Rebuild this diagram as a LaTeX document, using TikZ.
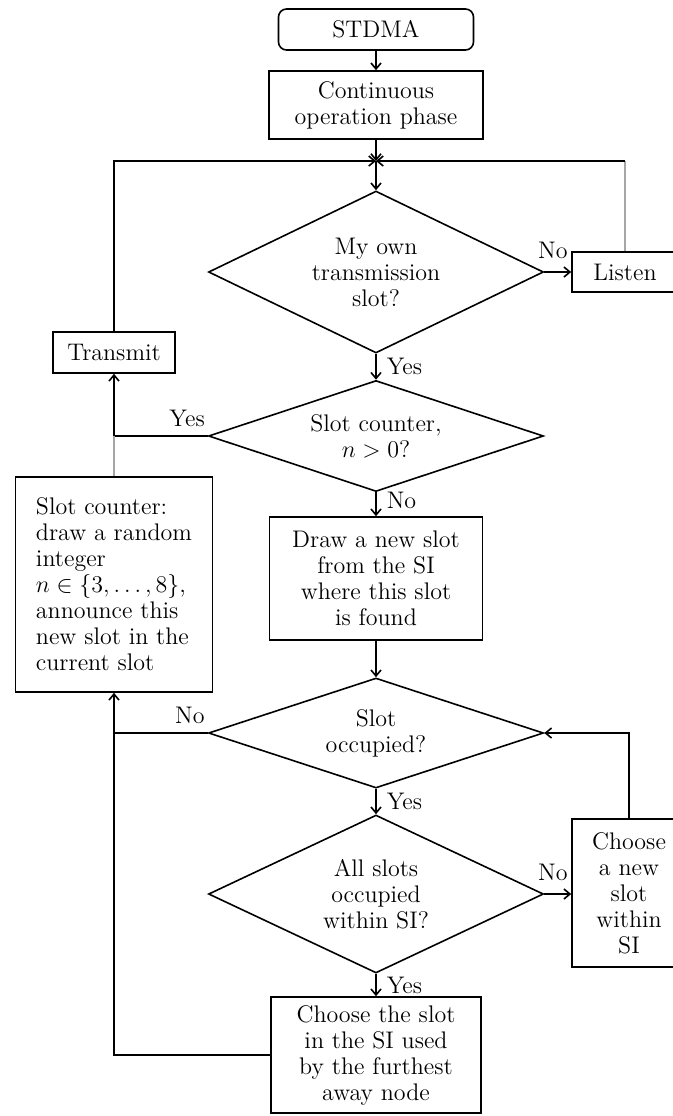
\documentclass[tikz,border=0pt]{standalone}
\usetikzlibrary{shapes.geometric,arrows.meta,calc}
\begin{document}
\begin{tikzpicture}[x=0.5pt,y=-0.5pt,
  every node/.style={font=\fontsize{12}{13}\selectfont},
  box/.style={draw,line width=0.8pt,inner sep=0pt,align=center},
  dec/.style={draw,diamond,line width=0.8pt,inner sep=0pt,align=center,minimum width=167.5pt},
  conn/.style={line width=0.8pt},
  arr/.style={conn,-{Straight Barb[length=3pt,width=5pt]}},
  faded/.style={conn,draw=black!35},
  lup/.style={above,inner sep=0pt,yshift=#1},
  lright/.style={right,inner sep=0pt,xshift=5pt}
]
\useasboundingbox (0,0) rectangle (673,1116);

% nodes
\node[box,rounded corners=4pt,minimum width=97.5pt,minimum height=20.5pt] (stdma) at (376,29.5) {STDMA};
\node[box,minimum width=107pt,minimum height=34pt] (cont) at (376,105) {Continuous\\operation phase};
\coordinate (J) at (376,161);
\node[dec,aspect=2.07,minimum height=81pt] (d1) at (376,272) {My own\\transmission\\slot?};
\node[box,minimum width=53pt,minimum height=20pt] (listen) at (625,272) {Listen};
\node[box,minimum width=61pt,minimum height=20.5pt] (transmit) at (114,352.5) {Transmit};
\node[dec,aspect=3,minimum height=55.5pt] (d2) at (376,436) {Slot counter,\\$n>0$?};
\node[box,align=left,minimum width=98.5pt,minimum height=107.5pt] (slotctr) at (114,584.5)
  {Slot counter:\\draw a random\\integer\\$n\in\{3,\ldots,8\}$,\\announce this\\new slot in the\\current slot};
\node[box,minimum width=106.5pt,minimum height=61.5pt] (drawnew) at (376,578.5) {Draw a new slot\\from the SI\\where this slot\\is found};
\node[dec,aspect=3,minimum height=55pt] (d3) at (376,733) {Slot\\occupied?};
\node[dec,aspect=2.1,minimum height=79pt] (d4) at (376,894) {All slots\\occupied\\within SI?};
\node[box,minimum width=57pt,minimum height=74pt] (choosenew) at (629,893) {Choose\\a new\\slot\\within\\SI};
\node[box,minimum width=105pt,minimum height=58pt] (choosefar) at (376,1055) {Choose the slot\\in the SI used\\by the furthest\\away node};

% connectors
\draw[arr] (stdma) -- (cont);
\draw[arr] (cont) -- (J);
\draw[arr] (transmit.north) |- (J);
\coordinate (R) at (listen.north |- J);
\draw[faded] (listen.north) -- (R);
\draw[arr] (R) -- (J);
\draw[arr] (J) -- (d1.north);
\draw[arr] (d1.east) -- node[lup=6pt,pos=0.32]{No} (listen.west);
\draw[arr] (d1.south) -- node[lright]{Yes} (d2.north);
\coordinate (L2) at (d2.west -| transmit.south);
\draw[arr] (d2.west) -- node[lup=4pt,pos=0.22]{Yes} (L2) -- (transmit.south);
\draw[faded] (slotctr.north) -- (L2);
\draw[arr] (d2.south) -- node[lright,pos=0.35]{No} (drawnew.north);
\draw[arr] (drawnew.south) -- (d3.north);
\coordinate (L3) at (d3.west -| slotctr.south);
\draw[arr] (d3.west) -- node[lup=4pt,pos=0.19]{No} (L3) -- (slotctr.south);
\draw[arr] (d3.south) -- node[lright]{Yes} (d4.north);
\draw[arr] (d4.east) -- node[lup=6pt,pos=0.32]{No} (d4.east -| choosenew.west);
\draw[arr] (choosenew.north) |- (d3.east);
\draw[arr] (d4.south) -- node[lright]{Yes} (choosefar.north);
\draw[conn] (choosefar.west) -| (L3);
\end{tikzpicture}
\end{document}
